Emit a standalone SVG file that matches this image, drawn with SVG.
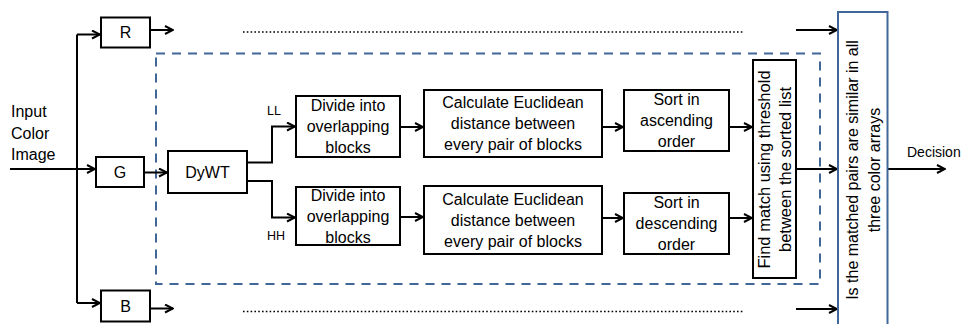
<svg xmlns="http://www.w3.org/2000/svg" width="962" height="324" viewBox="0 0 962 324">
<style>
text{font-family:"Liberation Sans",Arial,sans-serif;font-size:16px;fill:#000}
.box{fill:#fff;stroke:#000;stroke-width:2}
.c{text-anchor:middle}
.ln{fill:none;stroke:#000;stroke-width:2}
.dot{fill:none;stroke:#000;stroke-width:1.6;stroke-dasharray:1.6 2.2}
.sm{font-size:12.5px}
</style>
<defs>
<marker id="ah" viewBox="0 0 10 10" refX="9" refY="5" markerWidth="10" markerHeight="10" markerUnits="userSpaceOnUse" orient="auto">
<path d="M1,1 L9,5 L1,9" fill="none" stroke="#000" stroke-width="2"/>
</marker>
</defs>
<rect x="156" y="53.5" width="664" height="230.5" fill="none" stroke="#41679a" stroke-width="2" stroke-dasharray="9 7"/>
<g id="connectors">
<path class="ln" d="M10,169 H95" marker-end="url(#ah)"/>
<path class="ln" d="M77,34.5 V303"/>
<path class="ln" d="M77,34.5 H100" marker-end="url(#ah)"/>
<path class="ln" d="M77,303 H100" marker-end="url(#ah)"/>
<path class="ln" d="M150,30 H173" marker-end="url(#ah)"/>
<path class="ln" d="M150,308.5 H173" marker-end="url(#ah)"/>
<path class="ln" d="M144,172.5 H167" marker-end="url(#ah)"/>
<path class="ln" d="M247,162.5 H272 V126.5 H295" marker-end="url(#ah)"/>
<path class="ln" d="M247,181 H272 V217.5 H295" marker-end="url(#ah)"/>
<path class="ln" d="M400,127 H423" marker-end="url(#ah)"/>
<path class="ln" d="M400,217 H423" marker-end="url(#ah)"/>
<path class="ln" d="M602,127 H623" marker-end="url(#ah)"/>
<path class="ln" d="M602,218 H623" marker-end="url(#ah)"/>
<path class="ln" d="M729,127 H752" marker-end="url(#ah)"/>
<path class="ln" d="M729,218 H752" marker-end="url(#ah)"/>
<path class="ln" d="M796,169 H837" marker-end="url(#ah)"/>
<path class="ln" d="M796,30 H837" marker-end="url(#ah)"/>
<path class="ln" d="M796,309 H837" marker-end="url(#ah)"/>
<path class="ln" d="M887,169 H945" marker-end="url(#ah)"/>
<path class="dot" d="M243,32 H744"/>
<path class="dot" d="M243,311.5 H744"/>
</g>
<g id="input"><text x="11" y="117">Input</text><text x="11" y="138.5">Color</text><text x="11" y="160">Image</text></g>
<g id="R"><rect class="box" x="101" y="17.5" width="49" height="30"/><text class="c" x="125.5" y="38">R</text></g>
<g id="G"><rect class="box" x="96" y="157" width="48" height="30"/><text class="c" x="120" y="178">G</text></g>
<g id="B"><rect class="box" x="101" y="290.5" width="49" height="31"/><text class="c" x="125.5" y="312">B</text></g>
<g id="dywt"><rect class="box" x="168" y="151" width="79" height="42"/><text class="c" x="207.5" y="178">DyWT</text></g>
<g id="labels"><text class="sm" x="267" y="115">LL</text><text class="sm" x="267" y="240">HH</text></g>
<g id="divide1"><rect class="box" x="296" y="96" width="104" height="61"/><text class="c" x="348" y="111">Divide into</text><text class="c" x="348" y="132">overlapping</text><text class="c" x="348" y="153">blocks</text></g>
<g id="divide2"><rect class="box" x="296" y="187" width="104" height="58"/><text class="c" x="348" y="201">Divide into</text><text class="c" x="348" y="222">overlapping</text><text class="c" x="348" y="243">blocks</text></g>
<g id="calc1"><rect class="box" x="424" y="90" width="178" height="67"/><text class="c" x="513" y="108">Calculate Euclidean</text><text class="c" x="513" y="129">distance between</text><text class="c" x="513" y="150">every pair of blocks</text></g>
<g id="calc2"><rect class="box" x="424" y="186" width="178" height="68"/><text class="c" x="513" y="204.5">Calculate Euclidean</text><text class="c" x="513" y="225.5">distance between</text><text class="c" x="513" y="246.5">every pair of blocks</text></g>
<g id="sort1"><rect class="box" x="624" y="90" width="105" height="61"/><text class="c" x="676.5" y="105">Sort in</text><text class="c" x="676.5" y="126">ascending</text><text class="c" x="676.5" y="147">order</text></g>
<g id="sort2"><rect class="box" x="624" y="193" width="105" height="61"/><text class="c" x="676.5" y="208">Sort in</text><text class="c" x="676.5" y="229">descending</text><text class="c" x="676.5" y="250">order</text></g>
<g id="find"><rect class="box" x="753" y="60" width="43" height="218"/><text class="c" transform="translate(774.5,169.5) rotate(-90)" style="font-size:16.5px"><tspan x="0" y="-5">Find match using threshold</tspan><tspan x="0" y="16">between the sorted list</tspan></text></g>
<g id="similar"><rect x="838" y="12" width="49.5" height="320" fill="#fff" stroke="#41679a" stroke-width="2"/><text class="c" transform="translate(862,170) rotate(-90)"><tspan x="0" y="-4.5">Is the matched pairs are similar in all</tspan><tspan x="0" y="17.5">three color arrays</tspan></text></g>
<g id="decision"><text x="907" y="157" style="font-size:14px">Decision</text></g>
</svg>
